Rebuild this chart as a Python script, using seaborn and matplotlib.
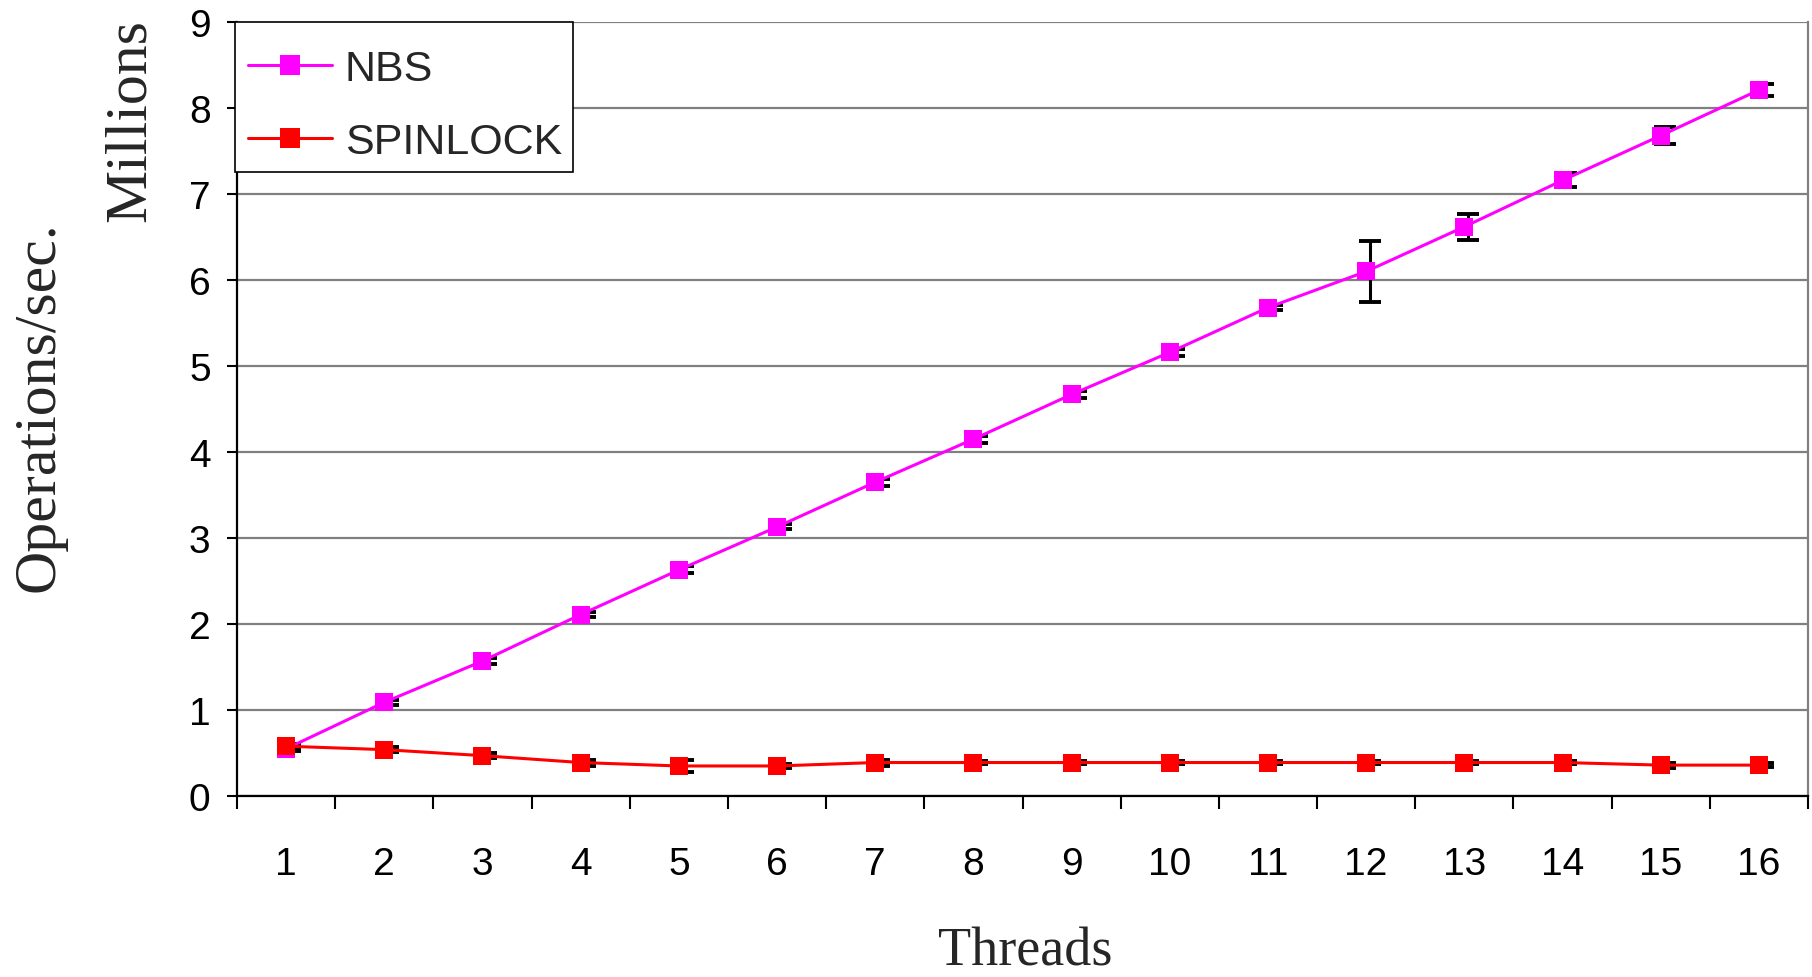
import numpy as np
import pandas as pd
import seaborn as sns
import matplotlib.pyplot as plt
from matplotlib.patches import Rectangle
from matplotlib.ticker import FixedLocator, NullFormatter

# Throughput (millions of operations per second) by thread count
threads = list(range(1, 17))
nbs_ops = [0.55, 1.09, 1.57, 2.11, 2.63, 3.13, 3.65, 4.15, 4.67, 5.16, 5.68, 6.10, 6.62, 7.16, 7.68, 8.21]
nbs_err = [0.03, 0.03, 0.03, 0.03, 0.04, 0.03, 0.04, 0.04, 0.04, 0.04, 0.03, 0.35, 0.15, 0.08, 0.10, 0.07]
spin_ops = [0.58, 0.54, 0.47, 0.39, 0.35, 0.35, 0.39, 0.39, 0.39, 0.39, 0.39, 0.39, 0.39, 0.39, 0.36, 0.36]
spin_err = [0.03, 0.03, 0.03, 0.035, 0.07, 0.02, 0.035, 0.02, 0.02, 0.02, 0.02, 0.02, 0.02, 0.02, 0.03, 0.02]
series_names = ["NBS", "SPINLOCK"]
series_colors = {"NBS": "#FF00FF", "SPINLOCK": "#FF0000"}
y_ticks = list(range(0, 10))

df = pd.DataFrame({
    "threads": threads * 2,
    "ops": nbs_ops + spin_ops,
    "err": nbs_err + spin_err,
    "impl": ["NBS"] * len(threads) + ["SPINLOCK"] * len(threads),
})

sns.set_theme(style="white")
plt.rcParams["font.family"] = ["Liberation Sans", "DejaVu Sans"]

fig = plt.figure(figsize=(18.12, 9.78), dpi=100)
ax = fig.add_axes([0.1308, 0.185, 0.8670, 0.7914])

# error bars, nudged slightly right of each point and kept beneath the markers
for name in series_names:
    sub = df[df["impl"] == name]
    ax.errorbar(sub["threads"] + 0.04, sub["ops"], yerr=sub["err"], fmt="none",
                ecolor="black", elinewidth=2.2, capsize=8, capthick=2.8, zorder=2)

for name in series_names:
    sub = df[df["impl"] == name]
    sns.lineplot(data=sub, x="threads", y="ops", ax=ax, color=series_colors[name],
                 marker="s", markersize=13, markeredgewidth=0, linewidth=2.2,
                 label=name, zorder=3)

ax.set_xlim(0.5, 16.5)
ax.set_ylim(0, 9)

# category labels at centres, tick marks at category boundaries
ax.xaxis.set_major_locator(FixedLocator(threads))
ax.set_xticklabels([str(t) for t in threads])
ax.xaxis.set_minor_locator(FixedLocator(np.arange(0.5, 17, 1.0)))
ax.tick_params(axis="x", which="major", length=0, pad=36, labelsize=28, colors="black")
ax.tick_params(axis="x", which="minor", bottom=True, length=9, width=1.5, color="black", direction="out")
ax.xaxis.set_minor_formatter(NullFormatter())

ax.set_yticks(y_ticks)
ax.tick_params(axis="y", which="major", left=True, length=7, width=1.5, color="black",
               direction="out", pad=12, labelsize=28, labelcolor="black")

ax.yaxis.grid(True, color="#808080", linewidth=1.6)
ax.xaxis.grid(False)
ax.set_axisbelow(True)

for side in ["left", "bottom"]:
    ax.spines[side].set_color("black")
    ax.spines[side].set_linewidth(1.6)
ax.spines["right"].set_color("#808080")
ax.spines["right"].set_linewidth(1.6)
ax.spines["top"].set_visible(False)

ax.set_xlabel("")
ax.set_ylabel("")

# legend box drawn as a plain white rectangle, entries placed inside it
legend_box = Rectangle((0.1297, 0.8231), 0.1865, 0.1534, transform=fig.transFigure,
                       facecolor="white", edgecolor="black", linewidth=1.2,
                       zorder=4, clip_on=False)
ax.add_patch(legend_box)
leg = ax.legend(loc="upper left", bbox_to_anchor=(248 / 1812, 1 - 50 / 978),
                bbox_transform=fig.transFigure, borderaxespad=0, borderpad=0,
                fontsize=31, frameon=False, handlelength=1.95, handletextpad=0.3,
                labelspacing=0.76, numpoints=1, markerscale=1.1)
leg.set_zorder(5)

serif = ["Liberation Serif", "DejaVu Serif"]
fig.text(0.5657, 0.026, "Threads", ha="center", va="center", fontsize=39, family=serif)
fig.text(0.022, 0.584, "Operations/sec.", ha="center", va="center", rotation=90,
         fontsize=43, family=serif)
fig.text(0.072, 0.877, "Millions", ha="center", va="center", rotation=90,
         fontsize=43, family=serif)

fig.savefig("out.png", dpi=100, facecolor="white")
